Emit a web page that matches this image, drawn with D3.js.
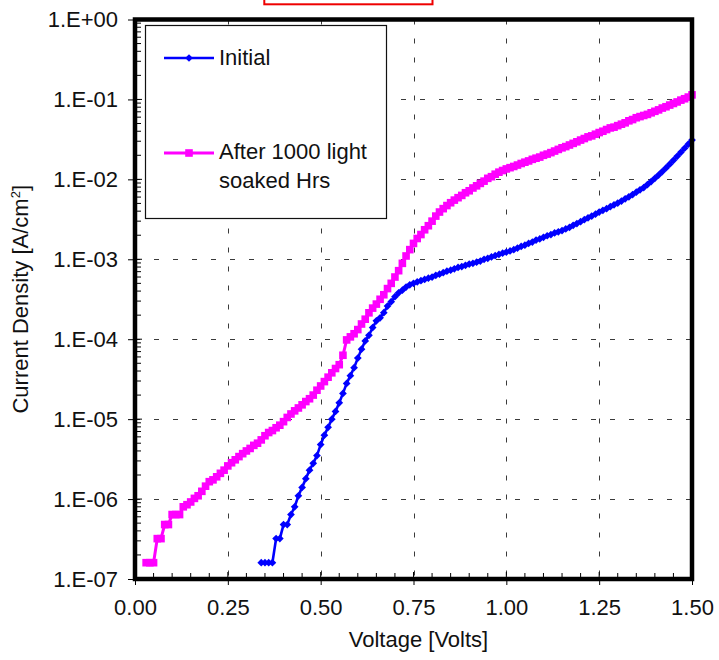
<!DOCTYPE html>
<html>
<head>
<meta charset="utf-8">
<script src="https://cdn.jsdelivr.net/npm/d3@7"></script>
<style>
  body { margin: 0; background: #fff; }
  svg { display: block; }
  text { font-family: "Liberation Sans", Arial, sans-serif; fill: #111; }
</style>
</head>
<body>
<svg id="chart" width="719" height="660"></svg>
<script>
// ---- data: dark J-V curves of the cell, before and after light soaking ----
const seriesNames = ["Initial", "After 1000 light", "soaked Hrs"];

const voltsInitial = [
  0.34, 0.35, 0.36, 0.37, 0.38, 0.39, 0.40, 0.41, 0.42, 0.43,
  0.44, 0.45, 0.46, 0.47, 0.48, 0.49, 0.50, 0.51, 0.52, 0.53,
  0.54, 0.55, 0.56, 0.57, 0.58, 0.59, 0.60, 0.61, 0.62, 0.63,
  0.64, 0.65, 0.66, 0.67, 0.68, 0.69, 0.70, 0.71, 0.72, 0.73,
  0.74, 0.75, 0.76, 0.77, 0.78, 0.79, 0.80, 0.81, 0.82, 0.83,
  0.84, 0.85, 0.86, 0.87, 0.88, 0.89, 0.90, 0.91, 0.92, 0.93,
  0.94, 0.95, 0.96, 0.97, 0.98, 0.99, 1.00, 1.01, 1.02, 1.03,
  1.04, 1.05, 1.06, 1.07, 1.08, 1.09, 1.10, 1.11, 1.12, 1.13,
  1.14, 1.15, 1.16, 1.17, 1.18, 1.19, 1.20, 1.21, 1.22, 1.23,
  1.24, 1.25, 1.26, 1.27, 1.28, 1.29, 1.30, 1.31, 1.32, 1.33,
  1.34, 1.35, 1.36, 1.37, 1.38, 1.39, 1.40, 1.41, 1.42, 1.43,
  1.44, 1.45, 1.46, 1.47, 1.48, 1.49, 1.50
];
const currentInitial = [
  1.6e-7, 1.6e-7, 1.6e-7, 1.6e-7, 3.2e-7, 3.2e-7, 4.8e-7, 4.8e-7, 6.4e-7, 8.0e-7,
  1.1e-6, 1.4e-6, 1.8e-6, 2.3e-6, 2.8e-6, 3.5e-6, 4.8e-6, 6.3e-6, 7.9e-6, 1.0e-5,
  1.25e-5, 1.6e-5, 2.1e-5, 2.8e-5, 3.5e-5, 4.4e-5, 5.8e-5, 7.5e-5, 9.5e-5, 1.12e-4,
  1.4e-4, 1.7e-4, 1.85e-4, 2.15e-4, 2.6e-4, 2.95e-4, 3.4e-4, 3.8e-4, 4.1e-4, 4.5e-4,
  4.8e-4, 5.0e-4, 5.2e-4, 5.4e-4, 5.6e-4, 5.8e-4, 6.0e-4, 6.3e-4, 6.5e-4, 6.8e-4,
  7.1e-4, 7.3e-4, 7.6e-4, 7.9e-4, 8.1e-4, 8.4e-4, 8.7e-4, 8.9e-4, 9.2e-4, 9.5e-4,
  1.0e-3, 1.03e-3, 1.07e-3, 1.11e-3, 1.15e-3, 1.19e-3, 1.23e-3, 1.27e-3, 1.32e-3, 1.38e-3,
  1.45e-3, 1.5e-3, 1.58e-3, 1.64e-3, 1.74e-3, 1.8e-3, 1.88e-3, 1.97e-3, 2.04e-3, 2.14e-3,
  2.21e-3, 2.29e-3, 2.4e-3, 2.5e-3, 2.66e-3, 2.8e-3, 2.95e-3, 3.13e-3, 3.3e-3, 3.47e-3,
  3.67e-3, 3.9e-3, 4.1e-3, 4.3e-3, 4.55e-3, 4.8e-3, 5.05e-3, 5.35e-3, 5.7e-3, 6.05e-3,
  6.45e-3, 6.9e-3, 7.4e-3, 7.9e-3, 8.6e-3, 9.4e-3, 1.03e-2, 1.13e-2, 1.25e-2, 1.39e-2,
  1.55e-2, 1.73e-2, 1.94e-2, 2.18e-2, 2.45e-2, 2.75e-2, 3.1e-2
];

const voltsSoaked = [
  0.03, 0.04, 0.05, 0.06, 0.07, 0.08, 0.09, 0.10, 0.11, 0.12,
  0.13, 0.14, 0.15, 0.16, 0.17, 0.18, 0.19, 0.20, 0.21, 0.22,
  0.23, 0.24, 0.25, 0.26, 0.27, 0.28, 0.29, 0.30, 0.31, 0.32,
  0.33, 0.34, 0.35, 0.36, 0.37, 0.38, 0.39, 0.40, 0.41, 0.42,
  0.43, 0.44, 0.45, 0.46, 0.47, 0.48, 0.49, 0.50, 0.51, 0.52,
  0.53, 0.54, 0.55, 0.56, 0.57, 0.58, 0.59, 0.60, 0.61, 0.62,
  0.63, 0.64, 0.65, 0.66, 0.67, 0.68, 0.69, 0.70, 0.71, 0.72,
  0.73, 0.74, 0.75, 0.76, 0.77, 0.78, 0.79, 0.80, 0.81, 0.82,
  0.83, 0.84, 0.85, 0.86, 0.87, 0.88, 0.89, 0.90, 0.91, 0.92,
  0.93, 0.94, 0.95, 0.96, 0.97, 0.98, 0.99, 1.00, 1.01, 1.02,
  1.03, 1.04, 1.05, 1.06, 1.07, 1.08, 1.09, 1.10, 1.11, 1.12,
  1.13, 1.14, 1.15, 1.16, 1.17, 1.18, 1.19, 1.20, 1.21, 1.22,
  1.23, 1.24, 1.25, 1.26, 1.27, 1.28, 1.29, 1.30, 1.31, 1.32,
  1.33, 1.34, 1.35, 1.36, 1.37, 1.38, 1.39, 1.40, 1.41, 1.42,
  1.43, 1.44, 1.45, 1.46, 1.47, 1.48, 1.49, 1.50
];
const currentSoaked = [
  1.6e-7, 1.6e-7, 1.6e-7, 3.2e-7, 3.2e-7, 4.8e-7, 4.8e-7, 6.4e-7, 6.4e-7, 6.4e-7,
  8.0e-7, 8.5e-7, 9.2e-7, 1.02e-6, 1.1e-6, 1.25e-6, 1.45e-6, 1.65e-6, 1.74e-6, 1.9e-6,
  2.1e-6, 2.3e-6, 2.6e-6, 2.85e-6, 3.1e-6, 3.4e-6, 3.7e-6, 4.0e-6, 4.3e-6, 4.7e-6,
  5.0e-6, 5.5e-6, 6.2e-6, 6.8e-6, 7.2e-6, 7.8e-6, 8.4e-6, 9.3e-6, 1.05e-5, 1.16e-5,
  1.27e-5, 1.38e-5, 1.51e-5, 1.66e-5, 1.8e-5, 2.0e-5, 2.3e-5, 2.6e-5, 2.95e-5, 3.35e-5,
  3.8e-5, 4.3e-5, 4.8e-5, 6.3e-5, 9.8e-5, 1.07e-4, 1.17e-4, 1.32e-4, 1.55e-4, 1.78e-4,
  2.14e-4, 2.45e-4, 2.75e-4, 3.16e-4, 3.6e-4, 4.3e-4, 5.0e-4, 6.0e-4, 7.2e-4, 8.9e-4,
  1.1e-3, 1.32e-3, 1.58e-3, 1.82e-3, 2.04e-3, 2.34e-3, 2.63e-3, 3.0e-3, 3.47e-3, 3.9e-3,
  4.3e-3, 4.7e-3, 5.1e-3, 5.5e-3, 5.9e-3, 6.3e-3, 6.8e-3, 7.2e-3, 7.8e-3, 8.3e-3,
  8.9e-3, 9.5e-3, 1.03e-2, 1.08e-2, 1.16e-2, 1.23e-2, 1.29e-2, 1.35e-2, 1.4e-2, 1.45e-2,
  1.51e-2, 1.58e-2, 1.64e-2, 1.7e-2, 1.78e-2, 1.84e-2, 1.9e-2, 2.0e-2, 2.07e-2, 2.16e-2,
  2.26e-2, 2.37e-2, 2.48e-2, 2.57e-2, 2.69e-2, 2.82e-2, 2.95e-2, 3.1e-2, 3.24e-2, 3.4e-2,
  3.5e-2, 3.67e-2, 3.85e-2, 4.0e-2, 4.2e-2, 4.4e-2, 4.5e-2, 4.7e-2, 4.9e-2, 5.1e-2,
  5.4e-2, 5.6e-2, 5.9e-2, 6.1e-2, 6.3e-2, 6.5e-2, 6.8e-2, 7.1e-2, 7.4e-2, 7.8e-2,
  8.1e-2, 8.5e-2, 8.9e-2, 9.3e-2, 9.8e-2, 1.02e-1, 1.07e-1, 1.14e-1
];

const voltTicks = [0, 0.25, 0.5, 0.75, 1.0, 1.25, 1.5];
const voltMinorTicks = [0.05, 0.10, 0.15, 0.20, 0.30, 0.35, 0.40, 0.45, 0.55, 0.60, 0.65, 0.70,
                        0.80, 0.85, 0.90, 0.95, 1.05, 1.10, 1.15, 1.20, 1.30, 1.35, 1.40, 1.45];
const currentTicks = [1e-7, 1e-6, 1e-5, 1e-4, 1e-3, 1e-2, 1e-1, 1];

// ---- layout ----
const svg = d3.select("#chart");
const plotLeft = 135, plotRight = 692, plotTop = 19.5, plotBottom = 579;

const x = d3.scaleLinear().domain([0, 1.5]).range([plotLeft, plotRight]);
const y = d3.scaleLog().domain([1e-7, 1]).range([plotBottom, plotTop]);

const fmtExp = d => {
  const e = Math.round(Math.log10(d));
  return "1.E" + (e >= 0 ? "+" : "-") + String(Math.abs(e)).padStart(2, "0");
};

// small red frame peeking in at the top edge
svg.append("rect")
  .attr("x", 264.3).attr("y", -10).attr("width", 168.2).attr("height", 14.3)
  .attr("fill", "#fff").attr("stroke", "#ee0000").attr("stroke-width", 2);

// dashed grid
const grid = svg.append("g").attr("stroke", "#3a3a3a").attr("stroke-width", 1)
  .attr("stroke-dasharray", "5,14");
grid.selectAll("line.h").data(currentTicks.filter(d => d > 1e-7 && d < 1)).join("line")
  .attr("x1", plotLeft).attr("x2", plotRight)
  .attr("y1", d => Math.round(y(d)) + 0.5).attr("y2", d => Math.round(y(d)) + 0.5);
grid.selectAll("line.v").data(voltTicks.filter(d => d > 0 && d < 1.5)).join("line")
  .attr("y1", plotTop).attr("y2", plotBottom)
  .attr("x1", d => Math.round(x(d)) + 0.5).attr("x2", d => Math.round(x(d)) + 0.5);

// minor ticks, drawn inward
const minorY = [];
currentTicks.slice(0, -1).forEach(dec => { for (let k = 2; k <= 9; k++) minorY.push(dec * k); });
svg.append("g").attr("stroke", "#000").attr("stroke-width", 1)
  .selectAll("line").data(minorY).join("line")
  .attr("x1", plotLeft).attr("x2", plotLeft + 6)
  .attr("y1", d => y(d)).attr("y2", d => y(d));
svg.append("g").attr("stroke", "#000").attr("stroke-width", 1)
  .selectAll("line").data(voltMinorTicks).join("line")
  .attr("y1", plotBottom).attr("y2", plotBottom - 6)
  .attr("x1", d => x(d)).attr("x2", d => x(d));
// inner half of the major ticks
svg.append("g").attr("stroke", "#000").attr("stroke-width", 1)
  .selectAll("line").data(voltTicks).join("line")
  .attr("y1", plotBottom).attr("y2", plotBottom - 7)
  .attr("x1", d => x(d)).attr("x2", d => x(d));
svg.append("g").attr("stroke", "#000").attr("stroke-width", 1)
  .selectAll("line").data(currentTicks).join("line")
  .attr("x1", plotLeft).attr("x2", plotLeft + 7)
  .attr("y1", d => y(d)).attr("y2", d => y(d));

// axes with outward major ticks and labels
const xAxis = svg.append("g").attr("transform", `translate(0,${plotBottom})`)
  .call(d3.axisBottom(x).tickValues(voltTicks).tickFormat(d3.format(".2f"))
    .tickSize(6).tickPadding(14));
const yAxis = svg.append("g").attr("transform", `translate(${plotLeft},0)`)
  .call(d3.axisLeft(y).tickValues(currentTicks).tickFormat(fmtExp)
    .tickSize(7).tickPadding(10));
[xAxis, yAxis].forEach(a => {
  a.select(".domain").remove();
  a.selectAll(".tick line").attr("stroke", "#000");
  a.selectAll(".tick text").attr("font-size", 22)
    .attr("font-family", "'Liberation Sans', Arial, sans-serif").attr("fill", "#111");
});

// curves
const line = d3.line().x(d => x(d[0])).y(d => y(d[1]));
const initialPts = voltsInitial.map((v, i) => [v, currentInitial[i]]);
const soakedPts = voltsSoaked.map((v, i) => [v, currentSoaked[i]]);

const diamond = d3.symbol().type(d3.symbolSquare).size(30);
const square = d3.symbol().type(d3.symbolSquare).size(58);

svg.append("path").datum(initialPts).attr("d", line)
  .attr("fill", "none").attr("stroke", "#0000ff").attr("stroke-width", 2.6);
svg.append("g").attr("fill", "#0000ff")
  .selectAll("path").data(initialPts).join("path")
  .attr("d", diamond)
  .attr("transform", d => `translate(${x(d[0])},${y(d[1])}) rotate(45)`);

svg.append("path").datum(soakedPts).attr("d", line)
  .attr("fill", "none").attr("stroke", "#ff00ff").attr("stroke-width", 3);
svg.append("g").attr("fill", "#ff00ff")
  .selectAll("path").data(soakedPts).join("path")
  .attr("d", square)
  .attr("transform", d => `translate(${x(d[0])},${y(d[1])})`);

// plot frame
svg.append("rect")
  .attr("x", plotLeft).attr("y", plotTop)
  .attr("width", plotRight - plotLeft).attr("height", plotBottom - plotTop)
  .attr("fill", "none").attr("stroke", "#000").attr("stroke-width", 4.5);

// legend
const lg = svg.append("g");
lg.append("rect").attr("x", 145.5).attr("y", 25.5).attr("width", 241).attr("height", 193)
  .attr("fill", "#fff").attr("stroke", "#111").attr("stroke-width", 1.2);
lg.append("line").attr("x1", 164).attr("x2", 214).attr("y1", 58).attr("y2", 58)
  .attr("stroke", "#0000ff").attr("stroke-width", 2.6);
lg.append("path").attr("d", diamond).attr("fill", "#0000ff")
  .attr("transform", "translate(189,58) rotate(45)");
lg.append("line").attr("x1", 164).attr("x2", 214).attr("y1", 153).attr("y2", 153)
  .attr("stroke", "#ff00ff").attr("stroke-width", 3);
lg.append("path").attr("d", square).attr("fill", "#ff00ff")
  .attr("transform", "translate(189,153)");
lg.append("text").attr("x", 219).attr("y", 65).attr("font-size", 22).text(seriesNames[0]);
lg.append("text").attr("x", 219).attr("y", 159).attr("font-size", 22).text(seriesNames[1]);
lg.append("text").attr("x", 219).attr("y", 188).attr("font-size", 22).text(seriesNames[2]);

// axis titles
svg.append("text").attr("x", (plotLeft + plotRight) / 2 + 5).attr("y", 647)
  .attr("text-anchor", "middle").attr("font-size", 22).text("Voltage [Volts]");
const yt = svg.append("text")
  .attr("transform", `translate(28,${(plotTop + plotBottom) / 2}) rotate(-90)`)
  .attr("text-anchor", "middle").attr("font-size", 22);
yt.append("tspan").text("Current Density [A/cm");
yt.append("tspan").attr("font-size", 13).attr("dy", -8).text("2");
yt.append("tspan").attr("dy", 8).text("]");
</script>
</body>
</html>
